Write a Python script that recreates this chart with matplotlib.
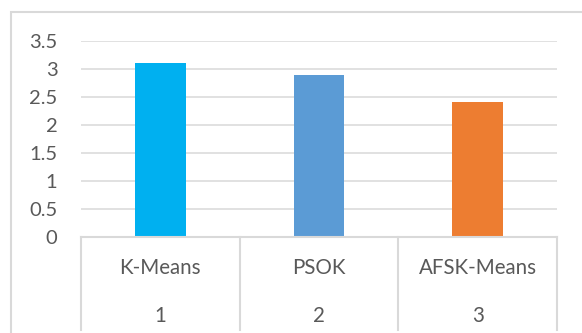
#!/usr/bin/env python3

import numpy as np
import matplotlib
matplotlib.use('Agg')
import matplotlib.pyplot as plt
import matplotlib.transforms as mtransforms
from matplotlib.patches import Rectangle

plt.rcParams['font.family'] = ['Lato', 'DejaVu Sans']

methods = ['K-Means', 'PSOK', 'AFSK-Means']
numbers = ['1', '2', '3']
values = [3.1, 2.89, 2.41]
colors = ['#00B0F0', '#5B9BD5', '#ED7D31']
yticks = [0, 0.5, 1, 1.5, 2, 2.5, 3, 3.5]

text_color = '#595959'
grid_color = '#D9D9D9'

W, H = 582, 333
fig = plt.figure(figsize=(W / 100, H / 100), dpi=100)

# outer chart border (cropped at right and bottom)
fig.patches.append(Rectangle((11 / W, -0.1), 1.2, 1 - 12 / H + 0.1,
                             transform=fig.transFigure, fill=False,
                             edgecolor=grid_color, linewidth=1.5))

ax = fig.add_axes([81 / W, 1 - 237 / H, 476 / W, 196 / H])

x = np.arange(len(methods))
ax.bar(x, values, width=0.32, color=colors, zorder=3)

ax.set_xlim(-0.5, len(methods) - 0.5)
ax.set_ylim(0, 3.5)
ax.set_yticks(yticks)
ax.set_yticklabels(['{:g}'.format(t) for t in yticks])
ax.yaxis.grid(True, color=grid_color, linewidth=1.1, zorder=0)
ax.tick_params(axis='y', length=0, pad=17, labelsize=14.5, labelcolor=text_color)
ax.set_xticks([])
for s in ax.spines.values():
    s.set_visible(False)

# multi-level category axis
trans = mtransforms.blended_transform_factory(ax.transData, ax.transAxes)
bottom = -(330 - 237) / 196
ax.plot([-0.5, len(methods) - 0.5], [0, 0], transform=trans,
        color=grid_color, linewidth=1.5, clip_on=False, zorder=4)
for b in np.arange(len(methods) + 1) - 0.5:
    ax.plot([b, b], [0, bottom], transform=trans, color=grid_color,
            linewidth=1.5, clip_on=False)
for i in range(len(methods)):
    ax.text(x[i], -(268 - 237) / 196, methods[i], transform=trans,
            ha='center', va='center', fontsize=14.8, color=text_color)
    ax.text(x[i], -(316 - 237) / 196, numbers[i], transform=trans,
            ha='center', va='center', fontsize=14.8, color=text_color)

plt.savefig('out.png', dpi=100)
